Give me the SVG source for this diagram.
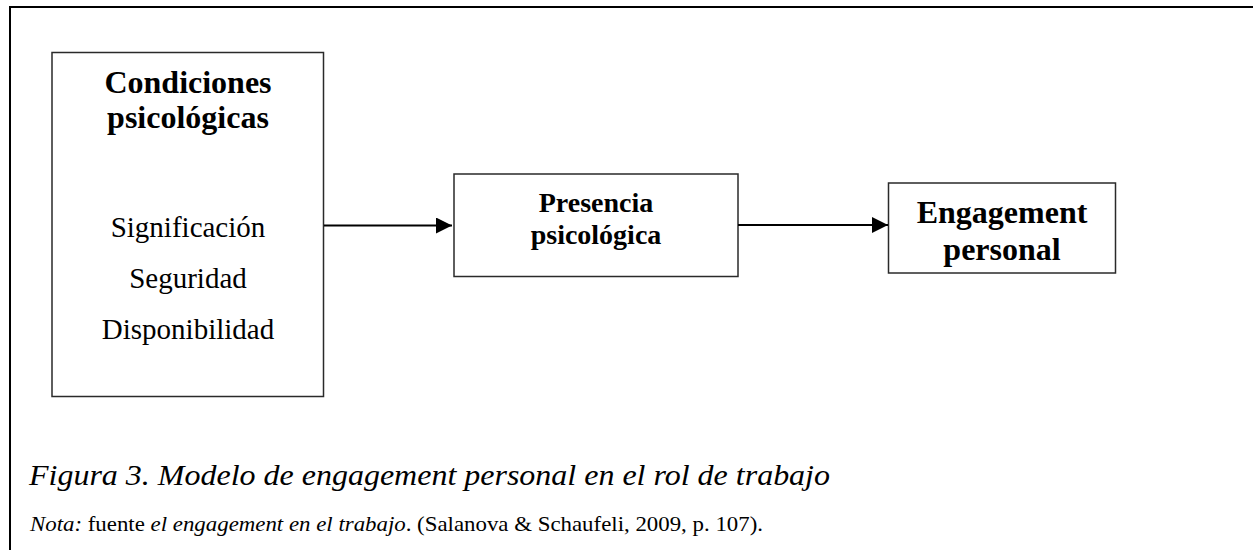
<svg xmlns="http://www.w3.org/2000/svg" width="1253" height="550" viewBox="0 0 1253 550">
  <style>
    .box { fill: #ffffff; stroke: #2a2a2a; stroke-width: 1.5; }
    .bold { font-family: "Liberation Serif", "Times New Roman", serif; font-weight: bold; fill: #000; text-anchor: middle; }
    .reg { font-family: "Liberation Serif", "Times New Roman", serif; fill: #000; text-anchor: middle; font-size: 29px; }
    .edge { stroke: #000; stroke-width: 2; fill: none; }
    .cap { font-family: "Liberation Serif", "Times New Roman", serif; fill: #000; }
  </style>
  <defs>
    <marker id="arrow" markerWidth="8" markerHeight="8" refX="8" refY="4" orient="auto" markerUnits="strokeWidth">
      <path d="M0,0 L8,4 L0,8 Z" fill="#000"/>
    </marker>
  </defs>

  <rect width="1253" height="550" fill="#ffffff"/>
  <!-- frame -->
  <path d="M10,551 V7 H1254" fill="none" stroke="#000" stroke-width="2"/>

  <g id="condiciones">
    <rect class="box" x="52" y="52.5" width="271.5" height="344"/>
    <text class="bold" x="188" y="93" font-size="32">Condiciones</text>
    <text class="bold" x="188" y="128" font-size="32">psicológicas</text>
    <text class="reg" x="188" y="237">Significación</text>
    <text class="reg" x="188" y="288">Seguridad</text>
    <text class="reg" x="188" y="339">Disponibilidad</text>
  </g>

  <g id="presencia">
    <rect class="box" x="454" y="174" width="284" height="102.5"/>
    <text class="bold" x="596" y="212" font-size="28">Presencia</text>
    <text class="bold" x="596" y="244" font-size="28">psicológica</text>
  </g>

  <g id="engagement">
    <rect class="box" x="888.5" y="183" width="227" height="90"/>
    <text class="bold" x="1002" y="223" font-size="32">Engagement</text>
    <text class="bold" x="1002" y="260" font-size="32">personal</text>
  </g>

  <g id="connectors">
    <line class="edge" x1="324" y1="225.5" x2="452" y2="225.5" marker-end="url(#arrow)"/>
    <line class="edge" x1="738" y1="225" x2="888" y2="225" marker-end="url(#arrow)"/>
  </g>

  <g id="caption">
    <text class="cap" x="29" y="485" font-size="30" font-style="italic" textLength="801" lengthAdjust="spacingAndGlyphs">Figura 3. Modelo de engagement personal en el rol de trabajo</text>
    <text class="cap" x="30" y="531" font-size="21" textLength="733" lengthAdjust="spacingAndGlyphs"><tspan font-style="italic">Nota:</tspan> fuente <tspan font-style="italic">el engagement en el trabajo</tspan>. (Salanova &amp; Schaufeli, 2009, p. 107).</text>
  </g>
</svg>
